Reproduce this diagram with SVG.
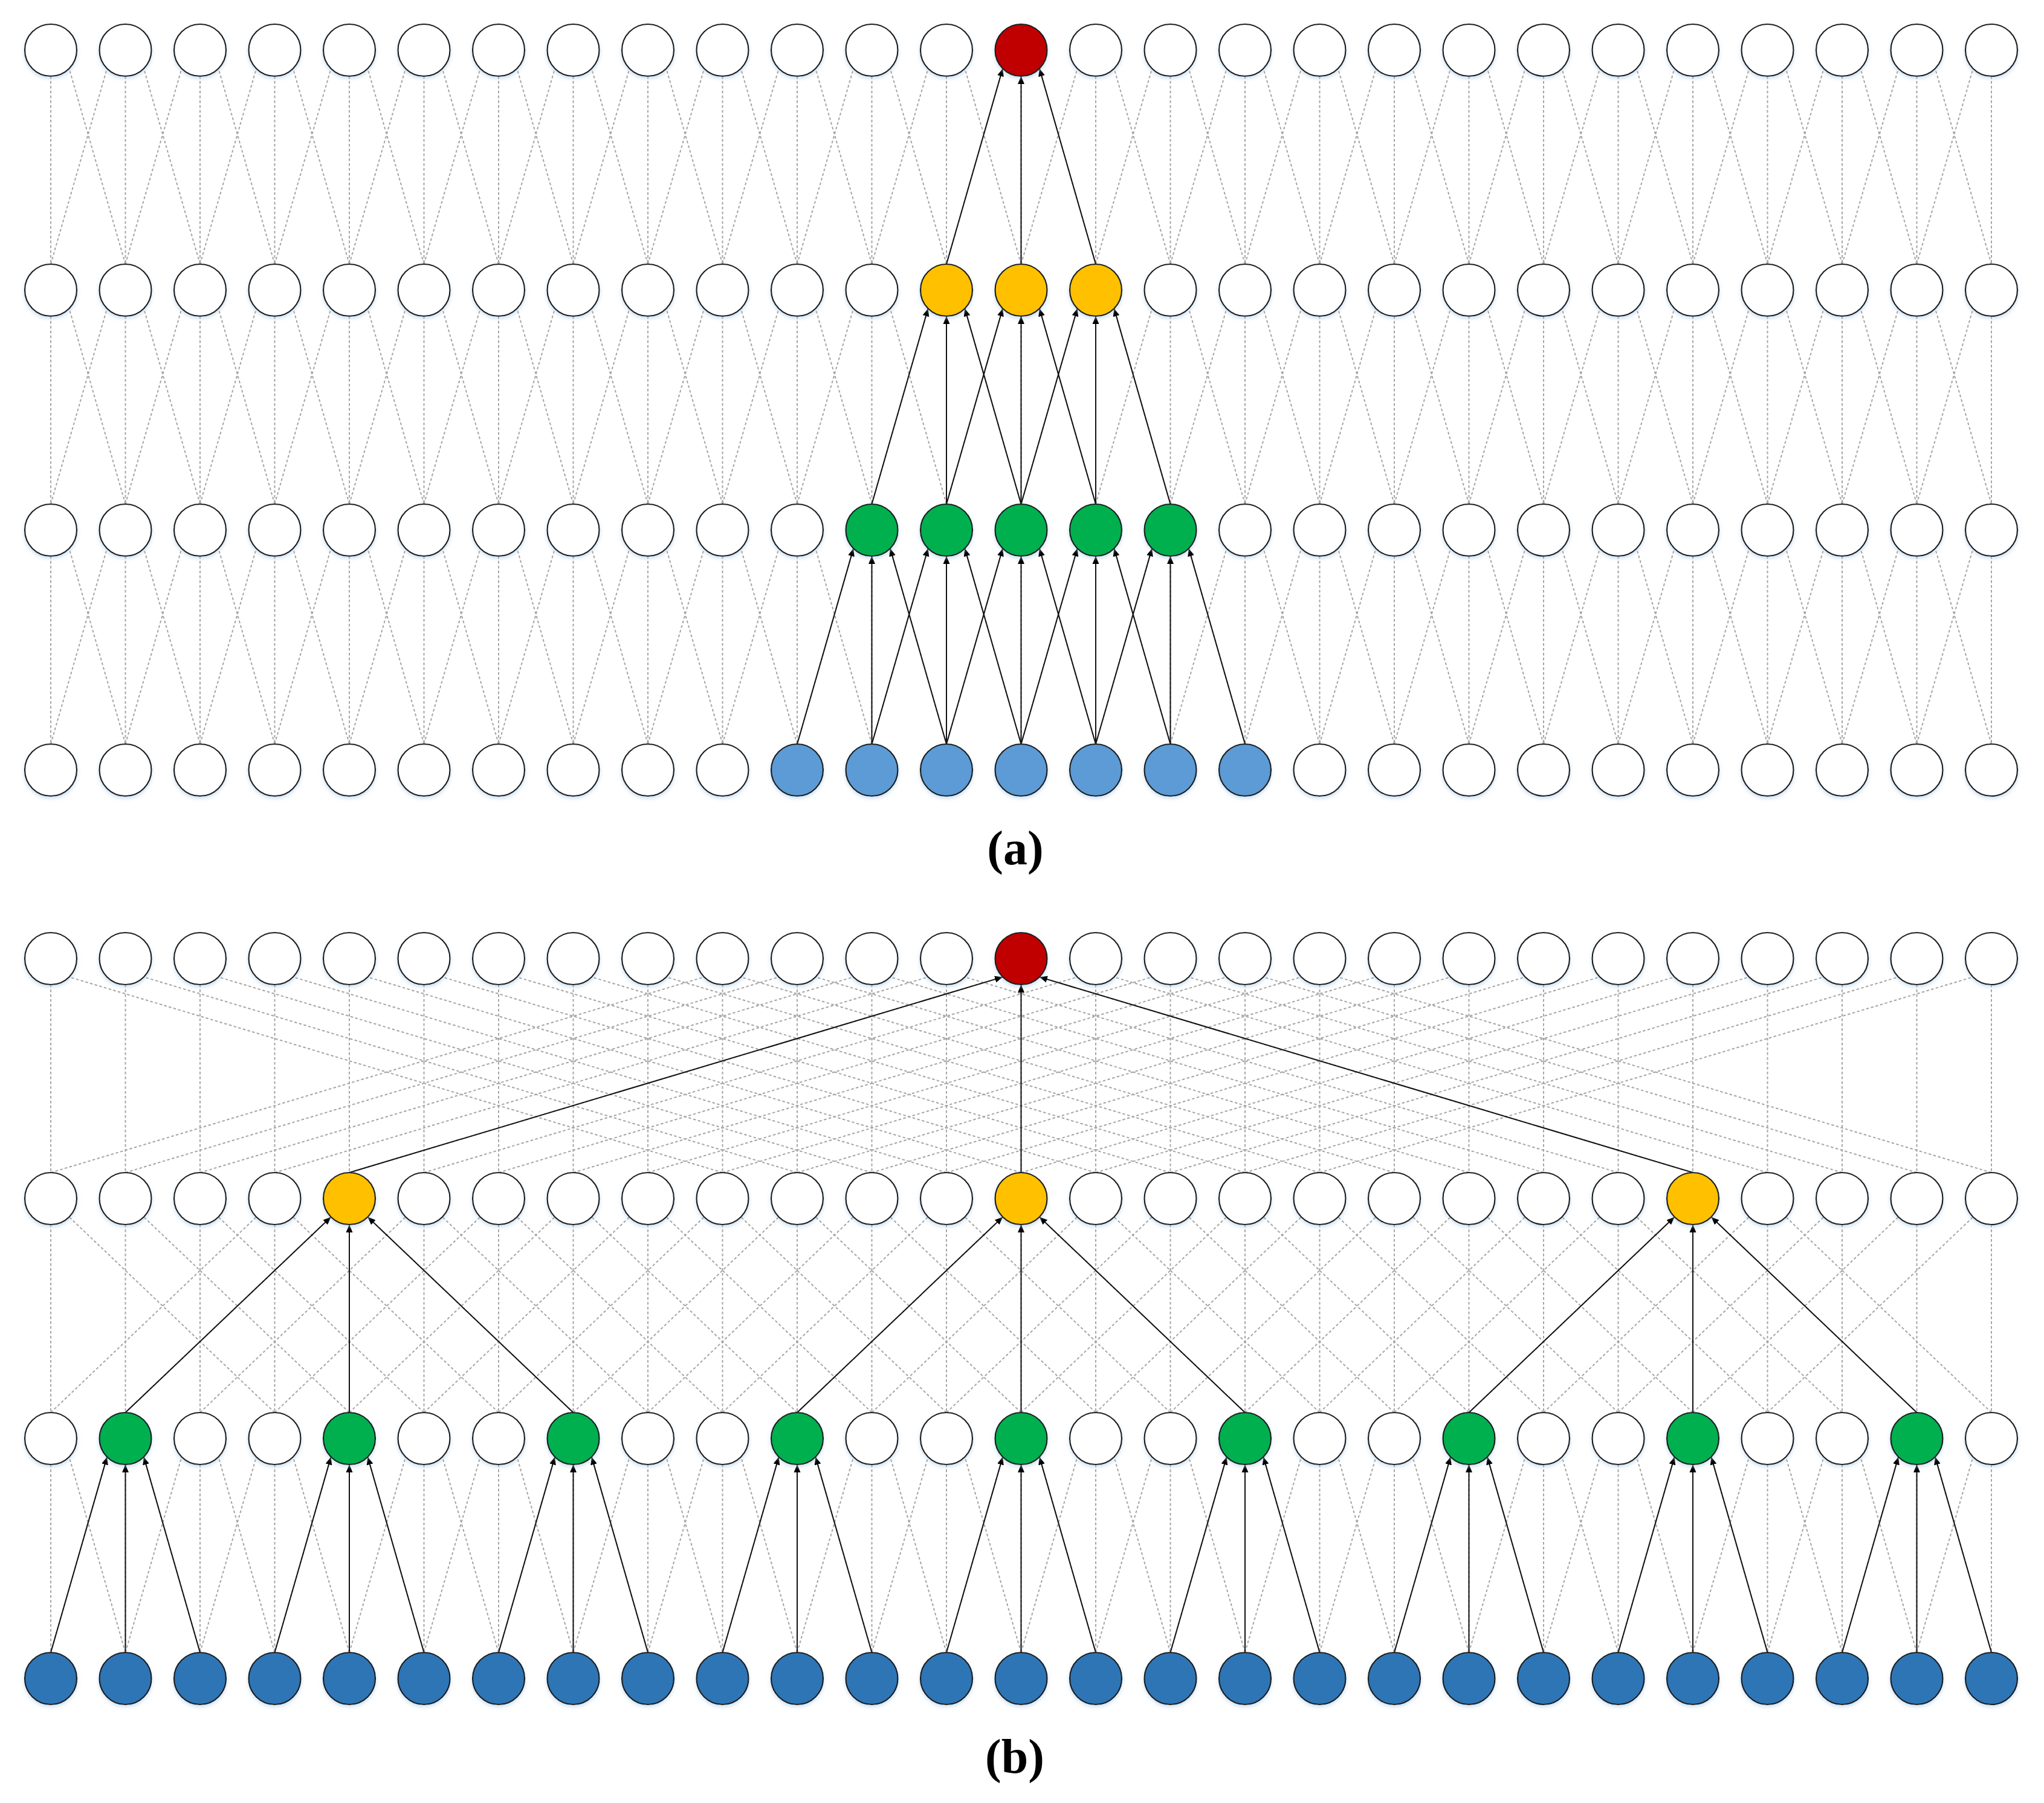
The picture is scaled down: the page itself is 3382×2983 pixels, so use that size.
<svg xmlns="http://www.w3.org/2000/svg" width="3382" height="2983" viewBox="0 0 3382 2983">
<style>
.dot{fill:none;stroke:#A6A6A6;stroke-width:2;stroke-dasharray:4.5 3.5}
.arr{fill:none;stroke:#111;stroke-width:2;marker-end:url(#ah)}
circle{stroke:#1F1F1F;stroke-width:2.2}
.w{fill:#FFFFFF}
.r{fill:#C00000}
.y{fill:#FFC000}
.g{fill:#00B050}
.b1{fill:#5B9BD5}
.b2{fill:#2E75B6}
.row{filter:url(#sh)}
.lbl{font-family:"Liberation Serif","Times New Roman",serif;font-weight:bold;font-size:80px;fill:#000}
</style>
<defs>
<marker id="ah" markerUnits="userSpaceOnUse" markerWidth="14" markerHeight="12" refX="13" refY="6" orient="auto" viewBox="0 0 14 12"><path d="M0,0.5 L13,6 L0,11.5 z" fill="#000"/></marker>
<filter id="sh" x="-2%" y="-40%" width="104%" height="190%">
<feGaussianBlur in="SourceAlpha" stdDeviation="3"/>
<feOffset dy="3" result="b"/>
<feFlood flood-color="#9DC3E6" flood-opacity="0.55"/>
<feComposite in2="b" operator="in"/>
<feMerge><feMergeNode/><feMergeNode in="SourceGraphic"/></feMerge>
</filter>
<path id="v" class="dot" d="M84,43v311
m123.5,-311v311m123.5,-311v311m123.5,-311v311m123.5,-311v311m123.5,-311v311
m123.5,-311v311m123.5,-311v311m123.5,-311v311m123.5,-311v311m123.5,-311v311
m123.5,-311v311m123.5,-311v311m123.5,-311v311m123.5,-311v311m123.5,-311v311
m123.5,-311v311m123.5,-311v311m123.5,-311v311m123.5,-311v311m123.5,-311v311
m123.5,-311v311m123.5,-311v311m123.5,-311v311m123.5,-311v311m123.5,-311v311
m123.5,-311v311"/>
<path id="d1l" class="dot" d="M84,354l93.1,-323.6
m30.4,323.6l93.1,-323.6m30.4,323.6l93.1,-323.6m30.4,323.6l93.1,-323.6m30.4,323.6l93.1,-323.6m30.4,323.6l93.1,-323.6
m30.4,323.6l93.1,-323.6m30.4,323.6l93.1,-323.6m30.4,323.6l93.1,-323.6m30.4,323.6l93.1,-323.6m30.4,323.6l93.1,-323.6
m30.4,323.6l93.1,-323.6m30.4,323.6l93.1,-323.6m30.4,323.6l93.1,-323.6m30.4,323.6l93.1,-323.6m30.4,323.6l93.1,-323.6
m30.4,323.6l93.1,-323.6m30.4,323.6l93.1,-323.6m30.4,323.6l93.1,-323.6m30.4,323.6l93.1,-323.6m30.4,323.6l93.1,-323.6
m30.4,323.6l93.1,-323.6m30.4,323.6l93.1,-323.6m30.4,323.6l93.1,-323.6m30.4,323.6l93.1,-323.6m30.4,323.6l93.1,-323.6"/>
<path id="d1r" class="dot" d="M207.5,354l-93.1,-323.6
m216.6,323.6l-93.1,-323.6m216.6,323.6l-93.1,-323.6m216.6,323.6l-93.1,-323.6m216.6,323.6l-93.1,-323.6m216.6,323.6l-93.1,-323.6
m216.6,323.6l-93.1,-323.6m216.6,323.6l-93.1,-323.6m216.6,323.6l-93.1,-323.6m216.6,323.6l-93.1,-323.6m216.6,323.6l-93.1,-323.6
m216.6,323.6l-93.1,-323.6m216.6,323.6l-93.1,-323.6m216.6,323.6l-93.1,-323.6m216.6,323.6l-93.1,-323.6m216.6,323.6l-93.1,-323.6
m216.6,323.6l-93.1,-323.6m216.6,323.6l-93.1,-323.6m216.6,323.6l-93.1,-323.6m216.6,323.6l-93.1,-323.6m216.6,323.6l-93.1,-323.6
m216.6,323.6l-93.1,-323.6m216.6,323.6l-93.1,-323.6m216.6,323.6l-93.1,-323.6m216.6,323.6l-93.1,-323.6m216.6,323.6l-93.1,-323.6"/>
<path id="d3l" class="dot" d="M84,354l340.1,-323.6
m-216.6,323.6l340.1,-323.6m-216.6,323.6l340.1,-323.6m-216.6,323.6l340.1,-323.6m-216.6,323.6l340.1,-323.6m-216.6,323.6l340.1,-323.6
m-216.6,323.6l340.1,-323.6m-216.6,323.6l340.1,-323.6m-216.6,323.6l340.1,-323.6m-216.6,323.6l340.1,-323.6m-216.6,323.6l340.1,-323.6
m-216.6,323.6l340.1,-323.6m-216.6,323.6l340.1,-323.6m-216.6,323.6l340.1,-323.6m-216.6,323.6l340.1,-323.6m-216.6,323.6l340.1,-323.6
m-216.6,323.6l340.1,-323.6m-216.6,323.6l340.1,-323.6m-216.6,323.6l340.1,-323.6m-216.6,323.6l340.1,-323.6m-216.6,323.6l340.1,-323.6
m-216.6,323.6l340.1,-323.6m-216.6,323.6l340.1,-323.6m-216.6,323.6l340.1,-323.6"/>
<path id="d3r" class="dot" d="M454.5,354l-340.1,-323.6
m463.6,323.6l-340.1,-323.6m463.6,323.6l-340.1,-323.6m463.6,323.6l-340.1,-323.6m463.6,323.6l-340.1,-323.6m463.6,323.6l-340.1,-323.6
m463.6,323.6l-340.1,-323.6m463.6,323.6l-340.1,-323.6m463.6,323.6l-340.1,-323.6m463.6,323.6l-340.1,-323.6m463.6,323.6l-340.1,-323.6
m463.6,323.6l-340.1,-323.6m463.6,323.6l-340.1,-323.6m463.6,323.6l-340.1,-323.6m463.6,323.6l-340.1,-323.6m463.6,323.6l-340.1,-323.6
m463.6,323.6l-340.1,-323.6m463.6,323.6l-340.1,-323.6m463.6,323.6l-340.1,-323.6m463.6,323.6l-340.1,-323.6m463.6,323.6l-340.1,-323.6
m463.6,323.6l-340.1,-323.6m463.6,323.6l-340.1,-323.6m463.6,323.6l-340.1,-323.6"/>
<path id="d9l" class="dot" d="M84,354l1081.1,-323.6
m-957.6,323.6l1081.1,-323.6m-957.6,323.6l1081.1,-323.6m-957.6,323.6l1081.1,-323.6m-957.6,323.6l1081.1,-323.6m-957.6,323.6l1081.1,-323.6
m-957.6,323.6l1081.1,-323.6m-957.6,323.6l1081.1,-323.6m-957.6,323.6l1081.1,-323.6m-957.6,323.6l1081.1,-323.6m-957.6,323.6l1081.1,-323.6
m-957.6,323.6l1081.1,-323.6m-957.6,323.6l1081.1,-323.6m-957.6,323.6l1081.1,-323.6m-957.6,323.6l1081.1,-323.6m-957.6,323.6l1081.1,-323.6
m-957.6,323.6l1081.1,-323.6m-957.6,323.6l1081.1,-323.6"/>
<path id="d9r" class="dot" d="M1195.5,354l-1081.1,-323.6
m1204.6,323.6l-1081.1,-323.6m1204.6,323.6l-1081.1,-323.6m1204.6,323.6l-1081.1,-323.6m1204.6,323.6l-1081.1,-323.6m1204.6,323.6l-1081.1,-323.6
m1204.6,323.6l-1081.1,-323.6m1204.6,323.6l-1081.1,-323.6m1204.6,323.6l-1081.1,-323.6m1204.6,323.6l-1081.1,-323.6m1204.6,323.6l-1081.1,-323.6
m1204.6,323.6l-1081.1,-323.6m1204.6,323.6l-1081.1,-323.6m1204.6,323.6l-1081.1,-323.6m1204.6,323.6l-1081.1,-323.6m1204.6,323.6l-1081.1,-323.6
m1204.6,323.6l-1081.1,-323.6m1204.6,323.6l-1081.1,-323.6"/>
<g id="t1"><use href="#v"/><use href="#d1l"/><use href="#d1r"/></g>
<g id="t3"><use href="#v"/><use href="#d3l"/><use href="#d3r"/></g>
<g id="t9"><use href="#v"/><use href="#d9l"/><use href="#d9r"/></g>
</defs>
<rect width="3382" height="2983" fill="#FFFFFF"/>
<g id="connectors">
<g id="dotted-a">
<use href="#t1" y="83"/>
<use href="#t1" y="480"/>
<use href="#t1" y="877"/>
</g>
<g id="dotted-b">
<use href="#t9" y="1586"/>
<use href="#t3" y="1983"/>
<use href="#t1" y="2380"/>
</g>
<g id="arrows-a">
<line class="arr" x1="1566" y1="437" x2="1659.1" y2="113.4"/>
<line class="arr" x1="1689.5" y1="437" x2="1689.5" y2="126"/>
<line class="arr" x1="1813" y1="437" x2="1719.9" y2="113.4"/>
<line class="arr" x1="1442.5" y1="834" x2="1535.6" y2="510.4"/>
<line class="arr" x1="1566" y1="834" x2="1566" y2="523"/>
<line class="arr" x1="1689.5" y1="834" x2="1596.4" y2="510.4"/>
<line class="arr" x1="1566" y1="834" x2="1659.1" y2="510.4"/>
<line class="arr" x1="1689.5" y1="834" x2="1689.5" y2="523"/>
<line class="arr" x1="1813" y1="834" x2="1719.9" y2="510.4"/>
<line class="arr" x1="1689.5" y1="834" x2="1782.6" y2="510.4"/>
<line class="arr" x1="1813" y1="834" x2="1813" y2="523"/>
<line class="arr" x1="1936.5" y1="834" x2="1843.4" y2="510.4"/>
<line class="arr" x1="1319" y1="1231" x2="1412.1" y2="907.4"/>
<line class="arr" x1="1442.5" y1="1231" x2="1442.5" y2="920"/>
<line class="arr" x1="1566" y1="1231" x2="1472.9" y2="907.4"/>
<line class="arr" x1="1442.5" y1="1231" x2="1535.6" y2="907.4"/>
<line class="arr" x1="1566" y1="1231" x2="1566" y2="920"/>
<line class="arr" x1="1689.5" y1="1231" x2="1596.4" y2="907.4"/>
<line class="arr" x1="1566" y1="1231" x2="1659.1" y2="907.4"/>
<line class="arr" x1="1689.5" y1="1231" x2="1689.5" y2="920"/>
<line class="arr" x1="1813" y1="1231" x2="1719.9" y2="907.4"/>
<line class="arr" x1="1689.5" y1="1231" x2="1782.6" y2="907.4"/>
<line class="arr" x1="1813" y1="1231" x2="1813" y2="920"/>
<line class="arr" x1="1936.5" y1="1231" x2="1843.4" y2="907.4"/>
<line class="arr" x1="1813" y1="1231" x2="1906.1" y2="907.4"/>
<line class="arr" x1="1936.5" y1="1231" x2="1936.5" y2="920"/>
<line class="arr" x1="2060" y1="1231" x2="1966.9" y2="907.4"/>
</g>
<g id="arrows-b">
<line class="arr" x1="578" y1="1940" x2="1659.1" y2="1616.4"/>
<line class="arr" x1="1689.5" y1="1940" x2="1689.5" y2="1629"/>
<line class="arr" x1="2801" y1="1940" x2="1719.9" y2="1616.4"/>
<line class="arr" x1="207.5" y1="2337" x2="547.6" y2="2013.4"/>
<line class="arr" x1="578" y1="2337" x2="578" y2="2026"/>
<line class="arr" x1="948.5" y1="2337" x2="608.4" y2="2013.4"/>
<line class="arr" x1="1319" y1="2337" x2="1659.1" y2="2013.4"/>
<line class="arr" x1="1689.5" y1="2337" x2="1689.5" y2="2026"/>
<line class="arr" x1="2060" y1="2337" x2="1719.9" y2="2013.4"/>
<line class="arr" x1="2430.5" y1="2337" x2="2770.6" y2="2013.4"/>
<line class="arr" x1="2801" y1="2337" x2="2801" y2="2026"/>
<line class="arr" x1="3171.5" y1="2337" x2="2831.4" y2="2013.4"/>
<line class="arr" x1="84" y1="2734" x2="177.1" y2="2410.4"/>
<line class="arr" x1="207.5" y1="2734" x2="207.5" y2="2423"/>
<line class="arr" x1="331" y1="2734" x2="237.9" y2="2410.4"/>
<line class="arr" x1="454.5" y1="2734" x2="547.6" y2="2410.4"/>
<line class="arr" x1="578" y1="2734" x2="578" y2="2423"/>
<line class="arr" x1="701.5" y1="2734" x2="608.4" y2="2410.4"/>
<line class="arr" x1="825" y1="2734" x2="918.1" y2="2410.4"/>
<line class="arr" x1="948.5" y1="2734" x2="948.5" y2="2423"/>
<line class="arr" x1="1072" y1="2734" x2="978.9" y2="2410.4"/>
<line class="arr" x1="1195.5" y1="2734" x2="1288.6" y2="2410.4"/>
<line class="arr" x1="1319" y1="2734" x2="1319" y2="2423"/>
<line class="arr" x1="1442.5" y1="2734" x2="1349.4" y2="2410.4"/>
<line class="arr" x1="1566" y1="2734" x2="1659.1" y2="2410.4"/>
<line class="arr" x1="1689.5" y1="2734" x2="1689.5" y2="2423"/>
<line class="arr" x1="1813" y1="2734" x2="1719.9" y2="2410.4"/>
<line class="arr" x1="1936.5" y1="2734" x2="2029.6" y2="2410.4"/>
<line class="arr" x1="2060" y1="2734" x2="2060" y2="2423"/>
<line class="arr" x1="2183.5" y1="2734" x2="2090.4" y2="2410.4"/>
<line class="arr" x1="2307" y1="2734" x2="2400.1" y2="2410.4"/>
<line class="arr" x1="2430.5" y1="2734" x2="2430.5" y2="2423"/>
<line class="arr" x1="2554" y1="2734" x2="2460.9" y2="2410.4"/>
<line class="arr" x1="2677.5" y1="2734" x2="2770.6" y2="2410.4"/>
<line class="arr" x1="2801" y1="2734" x2="2801" y2="2423"/>
<line class="arr" x1="2924.5" y1="2734" x2="2831.4" y2="2410.4"/>
<line class="arr" x1="3048" y1="2734" x2="3141.1" y2="2410.4"/>
<line class="arr" x1="3171.5" y1="2734" x2="3171.5" y2="2423"/>
<line class="arr" x1="3295" y1="2734" x2="3201.9" y2="2410.4"/>
</g>
</g>
<g id="nodes">
<g id="a-row4" class="row" transform="translate(0,83)">
<g id="a4-0"><circle class="w" cx="84" r="43"/></g>
<g id="a4-1"><circle class="w" cx="207.5" r="43"/></g>
<g id="a4-2"><circle class="w" cx="331" r="43"/></g>
<g id="a4-3"><circle class="w" cx="454.5" r="43"/></g>
<g id="a4-4"><circle class="w" cx="578" r="43"/></g>
<g id="a4-5"><circle class="w" cx="701.5" r="43"/></g>
<g id="a4-6"><circle class="w" cx="825" r="43"/></g>
<g id="a4-7"><circle class="w" cx="948.5" r="43"/></g>
<g id="a4-8"><circle class="w" cx="1072" r="43"/></g>
<g id="a4-9"><circle class="w" cx="1195.5" r="43"/></g>
<g id="a4-10"><circle class="w" cx="1319" r="43"/></g>
<g id="a4-11"><circle class="w" cx="1442.5" r="43"/></g>
<g id="a4-12"><circle class="w" cx="1566" r="43"/></g>
<g id="a4-13"><circle class="r" cx="1689.5" r="43"/></g>
<g id="a4-14"><circle class="w" cx="1813" r="43"/></g>
<g id="a4-15"><circle class="w" cx="1936.5" r="43"/></g>
<g id="a4-16"><circle class="w" cx="2060" r="43"/></g>
<g id="a4-17"><circle class="w" cx="2183.5" r="43"/></g>
<g id="a4-18"><circle class="w" cx="2307" r="43"/></g>
<g id="a4-19"><circle class="w" cx="2430.5" r="43"/></g>
<g id="a4-20"><circle class="w" cx="2554" r="43"/></g>
<g id="a4-21"><circle class="w" cx="2677.5" r="43"/></g>
<g id="a4-22"><circle class="w" cx="2801" r="43"/></g>
<g id="a4-23"><circle class="w" cx="2924.5" r="43"/></g>
<g id="a4-24"><circle class="w" cx="3048" r="43"/></g>
<g id="a4-25"><circle class="w" cx="3171.5" r="43"/></g>
<g id="a4-26"><circle class="w" cx="3295" r="43"/></g>
</g>
<g id="a-row3" class="row" transform="translate(0,480)">
<g id="a3-0"><circle class="w" cx="84" r="43"/></g>
<g id="a3-1"><circle class="w" cx="207.5" r="43"/></g>
<g id="a3-2"><circle class="w" cx="331" r="43"/></g>
<g id="a3-3"><circle class="w" cx="454.5" r="43"/></g>
<g id="a3-4"><circle class="w" cx="578" r="43"/></g>
<g id="a3-5"><circle class="w" cx="701.5" r="43"/></g>
<g id="a3-6"><circle class="w" cx="825" r="43"/></g>
<g id="a3-7"><circle class="w" cx="948.5" r="43"/></g>
<g id="a3-8"><circle class="w" cx="1072" r="43"/></g>
<g id="a3-9"><circle class="w" cx="1195.5" r="43"/></g>
<g id="a3-10"><circle class="w" cx="1319" r="43"/></g>
<g id="a3-11"><circle class="w" cx="1442.5" r="43"/></g>
<g id="a3-12"><circle class="y" cx="1566" r="43"/></g>
<g id="a3-13"><circle class="y" cx="1689.5" r="43"/></g>
<g id="a3-14"><circle class="y" cx="1813" r="43"/></g>
<g id="a3-15"><circle class="w" cx="1936.5" r="43"/></g>
<g id="a3-16"><circle class="w" cx="2060" r="43"/></g>
<g id="a3-17"><circle class="w" cx="2183.5" r="43"/></g>
<g id="a3-18"><circle class="w" cx="2307" r="43"/></g>
<g id="a3-19"><circle class="w" cx="2430.5" r="43"/></g>
<g id="a3-20"><circle class="w" cx="2554" r="43"/></g>
<g id="a3-21"><circle class="w" cx="2677.5" r="43"/></g>
<g id="a3-22"><circle class="w" cx="2801" r="43"/></g>
<g id="a3-23"><circle class="w" cx="2924.5" r="43"/></g>
<g id="a3-24"><circle class="w" cx="3048" r="43"/></g>
<g id="a3-25"><circle class="w" cx="3171.5" r="43"/></g>
<g id="a3-26"><circle class="w" cx="3295" r="43"/></g>
</g>
<g id="a-row2" class="row" transform="translate(0,877)">
<g id="a2-0"><circle class="w" cx="84" r="43"/></g>
<g id="a2-1"><circle class="w" cx="207.5" r="43"/></g>
<g id="a2-2"><circle class="w" cx="331" r="43"/></g>
<g id="a2-3"><circle class="w" cx="454.5" r="43"/></g>
<g id="a2-4"><circle class="w" cx="578" r="43"/></g>
<g id="a2-5"><circle class="w" cx="701.5" r="43"/></g>
<g id="a2-6"><circle class="w" cx="825" r="43"/></g>
<g id="a2-7"><circle class="w" cx="948.5" r="43"/></g>
<g id="a2-8"><circle class="w" cx="1072" r="43"/></g>
<g id="a2-9"><circle class="w" cx="1195.5" r="43"/></g>
<g id="a2-10"><circle class="w" cx="1319" r="43"/></g>
<g id="a2-11"><circle class="g" cx="1442.5" r="43"/></g>
<g id="a2-12"><circle class="g" cx="1566" r="43"/></g>
<g id="a2-13"><circle class="g" cx="1689.5" r="43"/></g>
<g id="a2-14"><circle class="g" cx="1813" r="43"/></g>
<g id="a2-15"><circle class="g" cx="1936.5" r="43"/></g>
<g id="a2-16"><circle class="w" cx="2060" r="43"/></g>
<g id="a2-17"><circle class="w" cx="2183.5" r="43"/></g>
<g id="a2-18"><circle class="w" cx="2307" r="43"/></g>
<g id="a2-19"><circle class="w" cx="2430.5" r="43"/></g>
<g id="a2-20"><circle class="w" cx="2554" r="43"/></g>
<g id="a2-21"><circle class="w" cx="2677.5" r="43"/></g>
<g id="a2-22"><circle class="w" cx="2801" r="43"/></g>
<g id="a2-23"><circle class="w" cx="2924.5" r="43"/></g>
<g id="a2-24"><circle class="w" cx="3048" r="43"/></g>
<g id="a2-25"><circle class="w" cx="3171.5" r="43"/></g>
<g id="a2-26"><circle class="w" cx="3295" r="43"/></g>
</g>
<g id="a-row1" class="row" transform="translate(0,1274)">
<g id="a1-0"><circle class="w" cx="84" r="43"/></g>
<g id="a1-1"><circle class="w" cx="207.5" r="43"/></g>
<g id="a1-2"><circle class="w" cx="331" r="43"/></g>
<g id="a1-3"><circle class="w" cx="454.5" r="43"/></g>
<g id="a1-4"><circle class="w" cx="578" r="43"/></g>
<g id="a1-5"><circle class="w" cx="701.5" r="43"/></g>
<g id="a1-6"><circle class="w" cx="825" r="43"/></g>
<g id="a1-7"><circle class="w" cx="948.5" r="43"/></g>
<g id="a1-8"><circle class="w" cx="1072" r="43"/></g>
<g id="a1-9"><circle class="w" cx="1195.5" r="43"/></g>
<g id="a1-10"><circle class="b1" cx="1319" r="43"/></g>
<g id="a1-11"><circle class="b1" cx="1442.5" r="43"/></g>
<g id="a1-12"><circle class="b1" cx="1566" r="43"/></g>
<g id="a1-13"><circle class="b1" cx="1689.5" r="43"/></g>
<g id="a1-14"><circle class="b1" cx="1813" r="43"/></g>
<g id="a1-15"><circle class="b1" cx="1936.5" r="43"/></g>
<g id="a1-16"><circle class="b1" cx="2060" r="43"/></g>
<g id="a1-17"><circle class="w" cx="2183.5" r="43"/></g>
<g id="a1-18"><circle class="w" cx="2307" r="43"/></g>
<g id="a1-19"><circle class="w" cx="2430.5" r="43"/></g>
<g id="a1-20"><circle class="w" cx="2554" r="43"/></g>
<g id="a1-21"><circle class="w" cx="2677.5" r="43"/></g>
<g id="a1-22"><circle class="w" cx="2801" r="43"/></g>
<g id="a1-23"><circle class="w" cx="2924.5" r="43"/></g>
<g id="a1-24"><circle class="w" cx="3048" r="43"/></g>
<g id="a1-25"><circle class="w" cx="3171.5" r="43"/></g>
<g id="a1-26"><circle class="w" cx="3295" r="43"/></g>
</g>
<g id="b-row4" class="row" transform="translate(0,1586)">
<g id="b4-0"><circle class="w" cx="84" r="43"/></g>
<g id="b4-1"><circle class="w" cx="207.5" r="43"/></g>
<g id="b4-2"><circle class="w" cx="331" r="43"/></g>
<g id="b4-3"><circle class="w" cx="454.5" r="43"/></g>
<g id="b4-4"><circle class="w" cx="578" r="43"/></g>
<g id="b4-5"><circle class="w" cx="701.5" r="43"/></g>
<g id="b4-6"><circle class="w" cx="825" r="43"/></g>
<g id="b4-7"><circle class="w" cx="948.5" r="43"/></g>
<g id="b4-8"><circle class="w" cx="1072" r="43"/></g>
<g id="b4-9"><circle class="w" cx="1195.5" r="43"/></g>
<g id="b4-10"><circle class="w" cx="1319" r="43"/></g>
<g id="b4-11"><circle class="w" cx="1442.5" r="43"/></g>
<g id="b4-12"><circle class="w" cx="1566" r="43"/></g>
<g id="b4-13"><circle class="r" cx="1689.5" r="43"/></g>
<g id="b4-14"><circle class="w" cx="1813" r="43"/></g>
<g id="b4-15"><circle class="w" cx="1936.5" r="43"/></g>
<g id="b4-16"><circle class="w" cx="2060" r="43"/></g>
<g id="b4-17"><circle class="w" cx="2183.5" r="43"/></g>
<g id="b4-18"><circle class="w" cx="2307" r="43"/></g>
<g id="b4-19"><circle class="w" cx="2430.5" r="43"/></g>
<g id="b4-20"><circle class="w" cx="2554" r="43"/></g>
<g id="b4-21"><circle class="w" cx="2677.5" r="43"/></g>
<g id="b4-22"><circle class="w" cx="2801" r="43"/></g>
<g id="b4-23"><circle class="w" cx="2924.5" r="43"/></g>
<g id="b4-24"><circle class="w" cx="3048" r="43"/></g>
<g id="b4-25"><circle class="w" cx="3171.5" r="43"/></g>
<g id="b4-26"><circle class="w" cx="3295" r="43"/></g>
</g>
<g id="b-row3" class="row" transform="translate(0,1983)">
<g id="b3-0"><circle class="w" cx="84" r="43"/></g>
<g id="b3-1"><circle class="w" cx="207.5" r="43"/></g>
<g id="b3-2"><circle class="w" cx="331" r="43"/></g>
<g id="b3-3"><circle class="w" cx="454.5" r="43"/></g>
<g id="b3-4"><circle class="y" cx="578" r="43"/></g>
<g id="b3-5"><circle class="w" cx="701.5" r="43"/></g>
<g id="b3-6"><circle class="w" cx="825" r="43"/></g>
<g id="b3-7"><circle class="w" cx="948.5" r="43"/></g>
<g id="b3-8"><circle class="w" cx="1072" r="43"/></g>
<g id="b3-9"><circle class="w" cx="1195.5" r="43"/></g>
<g id="b3-10"><circle class="w" cx="1319" r="43"/></g>
<g id="b3-11"><circle class="w" cx="1442.5" r="43"/></g>
<g id="b3-12"><circle class="w" cx="1566" r="43"/></g>
<g id="b3-13"><circle class="y" cx="1689.5" r="43"/></g>
<g id="b3-14"><circle class="w" cx="1813" r="43"/></g>
<g id="b3-15"><circle class="w" cx="1936.5" r="43"/></g>
<g id="b3-16"><circle class="w" cx="2060" r="43"/></g>
<g id="b3-17"><circle class="w" cx="2183.5" r="43"/></g>
<g id="b3-18"><circle class="w" cx="2307" r="43"/></g>
<g id="b3-19"><circle class="w" cx="2430.5" r="43"/></g>
<g id="b3-20"><circle class="w" cx="2554" r="43"/></g>
<g id="b3-21"><circle class="w" cx="2677.5" r="43"/></g>
<g id="b3-22"><circle class="y" cx="2801" r="43"/></g>
<g id="b3-23"><circle class="w" cx="2924.5" r="43"/></g>
<g id="b3-24"><circle class="w" cx="3048" r="43"/></g>
<g id="b3-25"><circle class="w" cx="3171.5" r="43"/></g>
<g id="b3-26"><circle class="w" cx="3295" r="43"/></g>
</g>
<g id="b-row2" class="row" transform="translate(0,2380)">
<g id="b2-0"><circle class="w" cx="84" r="43"/></g>
<g id="b2-1"><circle class="g" cx="207.5" r="43"/></g>
<g id="b2-2"><circle class="w" cx="331" r="43"/></g>
<g id="b2-3"><circle class="w" cx="454.5" r="43"/></g>
<g id="b2-4"><circle class="g" cx="578" r="43"/></g>
<g id="b2-5"><circle class="w" cx="701.5" r="43"/></g>
<g id="b2-6"><circle class="w" cx="825" r="43"/></g>
<g id="b2-7"><circle class="g" cx="948.5" r="43"/></g>
<g id="b2-8"><circle class="w" cx="1072" r="43"/></g>
<g id="b2-9"><circle class="w" cx="1195.5" r="43"/></g>
<g id="b2-10"><circle class="g" cx="1319" r="43"/></g>
<g id="b2-11"><circle class="w" cx="1442.5" r="43"/></g>
<g id="b2-12"><circle class="w" cx="1566" r="43"/></g>
<g id="b2-13"><circle class="g" cx="1689.5" r="43"/></g>
<g id="b2-14"><circle class="w" cx="1813" r="43"/></g>
<g id="b2-15"><circle class="w" cx="1936.5" r="43"/></g>
<g id="b2-16"><circle class="g" cx="2060" r="43"/></g>
<g id="b2-17"><circle class="w" cx="2183.5" r="43"/></g>
<g id="b2-18"><circle class="w" cx="2307" r="43"/></g>
<g id="b2-19"><circle class="g" cx="2430.5" r="43"/></g>
<g id="b2-20"><circle class="w" cx="2554" r="43"/></g>
<g id="b2-21"><circle class="w" cx="2677.5" r="43"/></g>
<g id="b2-22"><circle class="g" cx="2801" r="43"/></g>
<g id="b2-23"><circle class="w" cx="2924.5" r="43"/></g>
<g id="b2-24"><circle class="w" cx="3048" r="43"/></g>
<g id="b2-25"><circle class="g" cx="3171.5" r="43"/></g>
<g id="b2-26"><circle class="w" cx="3295" r="43"/></g>
</g>
<g id="b-row1" class="row" transform="translate(0,2777)">
<g id="b1-0"><circle class="b2" cx="84" r="43"/></g>
<g id="b1-1"><circle class="b2" cx="207.5" r="43"/></g>
<g id="b1-2"><circle class="b2" cx="331" r="43"/></g>
<g id="b1-3"><circle class="b2" cx="454.5" r="43"/></g>
<g id="b1-4"><circle class="b2" cx="578" r="43"/></g>
<g id="b1-5"><circle class="b2" cx="701.5" r="43"/></g>
<g id="b1-6"><circle class="b2" cx="825" r="43"/></g>
<g id="b1-7"><circle class="b2" cx="948.5" r="43"/></g>
<g id="b1-8"><circle class="b2" cx="1072" r="43"/></g>
<g id="b1-9"><circle class="b2" cx="1195.5" r="43"/></g>
<g id="b1-10"><circle class="b2" cx="1319" r="43"/></g>
<g id="b1-11"><circle class="b2" cx="1442.5" r="43"/></g>
<g id="b1-12"><circle class="b2" cx="1566" r="43"/></g>
<g id="b1-13"><circle class="b2" cx="1689.5" r="43"/></g>
<g id="b1-14"><circle class="b2" cx="1813" r="43"/></g>
<g id="b1-15"><circle class="b2" cx="1936.5" r="43"/></g>
<g id="b1-16"><circle class="b2" cx="2060" r="43"/></g>
<g id="b1-17"><circle class="b2" cx="2183.5" r="43"/></g>
<g id="b1-18"><circle class="b2" cx="2307" r="43"/></g>
<g id="b1-19"><circle class="b2" cx="2430.5" r="43"/></g>
<g id="b1-20"><circle class="b2" cx="2554" r="43"/></g>
<g id="b1-21"><circle class="b2" cx="2677.5" r="43"/></g>
<g id="b1-22"><circle class="b2" cx="2801" r="43"/></g>
<g id="b1-23"><circle class="b2" cx="2924.5" r="43"/></g>
<g id="b1-24"><circle class="b2" cx="3048" r="43"/></g>
<g id="b1-25"><circle class="b2" cx="3171.5" r="43"/></g>
<g id="b1-26"><circle class="b2" cx="3295" r="43"/></g>
</g>
</g>
<g id="labels">
<text class="lbl" x="1680" y="1430" text-anchor="middle">(a)</text>
<text class="lbl" x="1679" y="2933" text-anchor="middle">(b)</text>
</g>
</svg>
